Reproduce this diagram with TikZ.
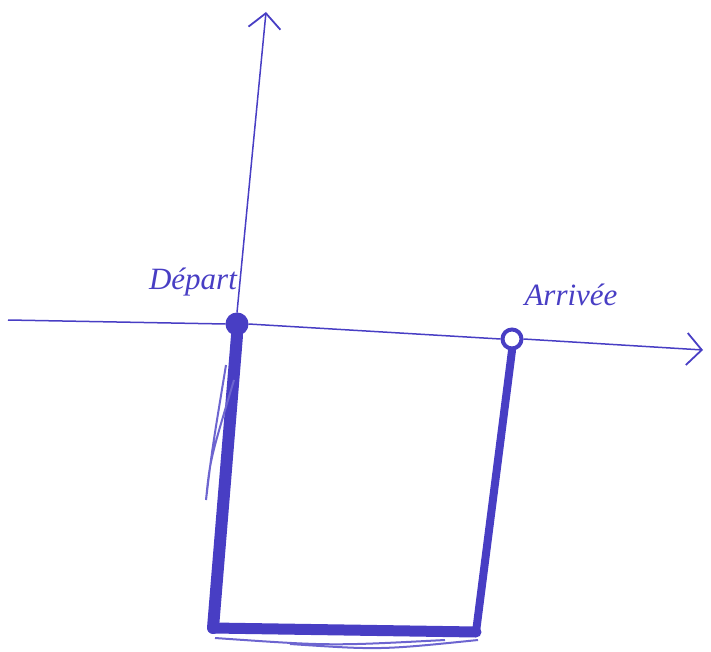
\documentclass[tikz,border=0pt]{standalone}
\usepackage{fontspec}
\setmainfont{Liberation Serif}
\usetikzlibrary{arrows.meta}
\definecolor{pen}{RGB}{72,62,196}
\tikzset{
  axisline/.style={draw=pen, line width=1.5pt},
  bar/.style={draw=pen, line cap=round, line join=round},
  scrib/.style={draw=pen!80, line width=2pt},
  point/.style={circle, draw=pen, line width=4pt, inner sep=0pt, minimum size=19pt},
  lbl/.style={text=pen, font=\itshape\fontsize{31}{34}\selectfont, inner sep=0pt},
  tip/.style={-{Straight Barb[length=15pt,width=32pt,line width=1.8pt]}}
}
\begin{document}
\begin{tikzpicture}[x=1pt,y=-1pt]
\useasboundingbox (0,0) rectangle (711,652);
% points
\node[point, fill=pen] (dep) at (237,324) {};
\node[point] (arr) at (512,339) {};
% coordinates
\coordinate (xl) at (8,320);
\coordinate (xr) at (703,350);
\coordinate (yt) at (266,12);
\coordinate (bl) at (213,628);
\coordinate (br) at (476,632);
% bars
\draw[bar, line width=12pt] (dep.south) -- (bl);
\draw[bar, line width=11pt] (bl) -- (br);
\draw[bar, line width=8pt] (br) -- (arr.south);
\draw[scrib] (226,365) .. controls (212,450) .. (206,500) .. controls (210,460) .. (234,380);
\draw[scrib] (215,638) .. controls (330,646) .. (445,640);
\draw[scrib] (290,644) .. controls (380,650) .. (478,640);
% axes
\draw[axisline] (xl) -- (dep.west);
\draw[axisline] (dep.east) -- (arr.west);
\draw[axisline, tip] (arr.east) -- (xr);
\draw[axisline, tip] (dep.north) -- (yt);
% labels
\node[lbl] (ldep) at (193,282) {Départ};
\node[lbl] (larr) at (571,295) {Arrivée};
\end{tikzpicture}
\end{document}
